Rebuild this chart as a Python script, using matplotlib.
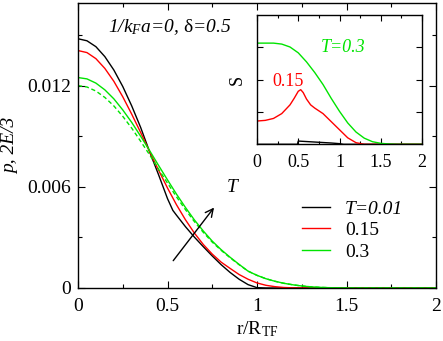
import matplotlib
matplotlib.use("Agg")
import matplotlib.pyplot as plt
from matplotlib.ticker import MultipleLocator, NullFormatter

plt.rcParams['font.family'] = ['Liberation Serif', 'DejaVu Serif']
plt.rcParams['mathtext.fontset'] = 'custom'
plt.rcParams['mathtext.rm'] = 'Liberation Serif'
plt.rcParams['mathtext.it'] = 'Liberation Serif:italic'

# ---- main panel data: p and 2E/3 vs r/R_TF ----
r_black = [0.0, 0.05, 0.10, 0.15, 0.20, 0.25, 0.30, 0.35, 0.40, 0.45, 0.50, 0.53,
           0.55, 0.60, 0.65, 0.70, 0.75, 0.80, 0.85, 0.90, 0.95, 1.00, 1.05, 2.0]
p_black = [0.01478, 0.01466, 0.01431, 0.01372, 0.01293, 0.01195, 0.01080, 0.00952,
           0.00808, 0.00672, 0.00530, 0.00460, 0.00432, 0.00364, 0.00302, 0.00245,
           0.00190, 0.00138, 0.00092, 0.00052, 0.00020, 0.00002, 0.0, 0.0]

r_red = [0.0, 0.05, 0.10, 0.15, 0.20, 0.25, 0.30, 0.35, 0.40, 0.45, 0.50, 0.55, 0.60,
         0.65, 0.70, 0.75, 0.80, 0.85, 0.90, 0.95, 1.00, 1.05, 1.10, 1.15, 1.20, 1.25, 2.0]
p_red = [0.01408, 0.01396, 0.01360, 0.01302, 0.01226, 0.01134, 0.01031, 0.00922,
         0.00809, 0.00699, 0.00593, 0.00494, 0.00405, 0.00326, 0.00258, 0.00201,
         0.00153, 0.00116, 0.00080, 0.00052, 0.00030, 0.00016, 0.00008, 0.00003,
         0.00001, 0.0, 0.0]

r_green = [0.0, 0.05, 0.10, 0.15, 0.20, 0.25, 0.30, 0.35, 0.40, 0.45, 0.50, 0.55, 0.60,
           0.65, 0.70, 0.75, 0.80, 0.85, 0.90, 0.95, 1.00, 1.05, 1.10, 1.15, 1.20, 1.25,
           1.30, 1.35, 1.40, 1.50, 2.0]
p_green = [0.01248, 0.01240, 0.01215, 0.01175, 0.01122, 0.01056, 0.00982, 0.00900,
           0.00815, 0.00727, 0.00641, 0.00557, 0.00478, 0.00404, 0.00338, 0.00278,
           0.00227, 0.00182, 0.00140, 0.00100, 0.00075, 0.00055, 0.00040, 0.00028,
           0.00019, 0.00012, 0.00007, 0.00004, 0.00002, 0.0, 0.0]
e_green = [0.01200, 0.01192, 0.01168, 0.01130, 0.01080, 0.01018, 0.00948, 0.00870,
           0.00790, 0.00705, 0.00622, 0.00541, 0.00465, 0.00394, 0.00330, 0.00272,
           0.00223, 0.00179, 0.00138, 0.00100, 0.00075, 0.00055, 0.00040, 0.00028,
           0.00019, 0.00012, 0.00007, 0.00004, 0.00002, 0.0, 0.0]

# ---- inset data: entropy S ----
rs_green = [0.0, 0.1, 0.2, 0.3, 0.4, 0.5, 0.6, 0.7, 0.8, 0.9, 1.0, 1.1, 1.2, 1.3,
            1.4, 1.5, 1.6, 1.7, 2.0]
s_green = [3.13, 3.13, 3.13, 3.10, 3.01, 2.83, 2.55, 2.22, 1.85, 1.42, 1.02, 0.66,
           0.38, 0.19, 0.08, 0.03, 0.01, 0.0, 0.0]
rs_red = [0.0, 0.1, 0.2, 0.3, 0.4, 0.45, 0.50, 0.53, 0.56, 0.60, 0.65, 0.7, 0.8,
          0.9, 1.0, 1.1, 1.2, 1.3, 2.0]
s_red = [0.72, 0.74, 0.80, 0.95, 1.22, 1.42, 1.64, 1.69, 1.60, 1.40, 1.22, 1.12,
         0.95, 0.70, 0.45, 0.20, 0.05, 0.0, 0.0]
rs_black = [0.0, 0.49, 0.50, 0.7, 0.9, 1.0, 1.05, 2.0]
s_black = [0.0, 0.0, 0.10, 0.07, 0.04, 0.02, 0.0, 0.0]

GREEN = '#00e400'
RED = '#ff0000'
W, H = 443, 341

fig = plt.figure(figsize=(W / 100, H / 100), dpi=100)
ax = fig.add_axes([78 / W, 1 - 288 / H, (436 - 78) / W, (288 - 3) / H])

lw = 1.0
ax.plot(r_black, p_black, color='black', lw=lw, label='T=0.01')
ax.plot(r_red, p_red, color=RED, lw=lw, label='0.15')
ax.plot(r_green, p_green, color=GREEN, lw=lw, label='0.3')
ax.plot(r_green, e_green, color=GREEN, lw=lw, ls=(0, (3, 2)))

ax.set_xlim(0, 2)
ax.set_ylim(0, 0.0169)
ax.xaxis.set_minor_locator(MultipleLocator(0.25))
ax.yaxis.set_minor_locator(MultipleLocator(0.003))
ax.set_xticks([0, 0.5, 1, 1.5, 2])
ax.set_xticklabels(['0', '0.5', '1', '1.5', '2'])
ax.set_yticks([0, 0.006, 0.012])
ax.set_yticklabels(['0', '0.006', '0.012'])
ax.tick_params(which='both', direction='in', top=True, right=True, labelsize=14,
               width=0.8)
ax.tick_params(which='major', length=5, pad=5)
ax.tick_params(axis='x', which='major', pad=7)
ax.tick_params(which='minor', length=3)
for s in ax.spines.values():
    s.set_linewidth(1.0)

ax.set_xlabel('r/R$_\\mathrm{TF}$', fontsize=14, labelpad=3)
ax.set_ylabel('p, 2E/3', fontsize=14, fontstyle='italic', labelpad=6)

ax.text(0.084, 0.898, '1/k$_\\mathit{F}$a=0, $\\mathrm{\\delta}$=0.5', transform=ax.transAxes,
        fontsize=14, fontstyle='italic', ha='left', va='baseline')

ax.annotate('', xy=(0.76, 0.00477), xytext=(0.532, 0.00162),
            arrowprops=dict(arrowstyle='->', color='black', lw=1.0,
                            mutation_scale=14, shrinkA=0, shrinkB=0))
ax.text(0.86, 0.00594, 'T', fontsize=14, fontstyle='italic', ha='center', va='center')

leg = ax.legend(loc='upper left', bbox_to_anchor=(302 / W, 1 - 200 / H),
                bbox_transform=fig.transFigure, frameon=False, fontsize=14,
                handlelength=1.45, handletextpad=0.75, labelspacing=0.2,
                borderpad=0, borderaxespad=0)
leg.get_texts()[0].set_fontstyle('italic')

# ---- inset ----
ins = fig.add_axes([257 / W, 1 - 144.3 / H, (422 - 257) / W, (144.3 - 15) / H])
ins.plot(rs_black, s_black, color='black', lw=lw)
ins.plot(rs_red, s_red, color=RED, lw=lw)
ins.plot(rs_green, s_green, color=GREEN, lw=lw)
ins.set_xlim(0, 2)
ins.set_ylim(0, 4)
ins.set_xticks([0, 0.5, 1, 1.5, 2])
ins.set_xticklabels(['0', '0.5', '1', '1.5', '2'])
ins.xaxis.set_minor_locator(MultipleLocator(0.25))
ins.set_yticks([1, 2, 3])
ins.yaxis.set_major_formatter(NullFormatter())
ins.tick_params(which='both', direction='in', top=True, right=True, labelsize=13,
                width=0.8)
ins.tick_params(which='major', length=4, pad=4)
ins.tick_params(axis='x', which='major', pad=7)
ins.tick_params(which='minor', length=2.5)
for s in ins.spines.values():
    s.set_linewidth(1.0)
ins.set_ylabel('S', fontsize=13, labelpad=4)
ins.text(1.05, 3.0, 'T=0.3', color=GREEN, fontsize=13, fontstyle='italic',
         ha='center', va='center')
ins.text(0.38, 1.95, '0.15', color=RED, fontsize=13, ha='center', va='center')

fig.savefig('out.png', dpi=100)
